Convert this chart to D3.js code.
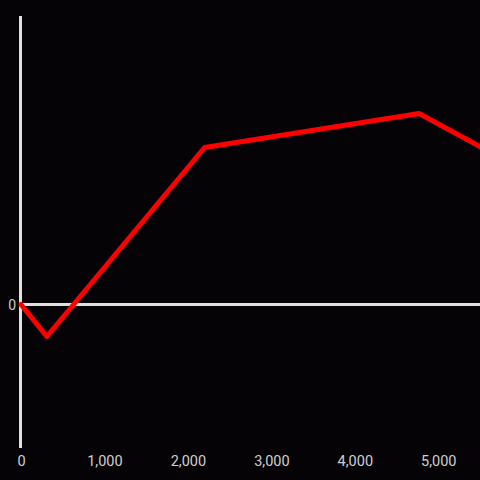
<!DOCTYPE html>
<html><head><meta charset="utf-8">
<script src="https://cdn.jsdelivr.net/npm/d3@7"></script>
<style>html,body{margin:0;padding:0;background:#050306;}svg{display:block;}</style>
</head><body>
<script>
const xValues = [0, 310, 2200, 4770, 5500];
const yValues = [0, -32, 157, 191, 158];
const xTicks = [0, 1000, 2000, 3000, 4000, 5000];
const yTicks = [0];

const W = 480, H = 480;
const svg = d3.select("body").append("svg").attr("width", W).attr("height", H);
svg.append("rect").attr("width", W).attr("height", H).attr("fill", "#050306");

const x = d3.scaleLinear().domain([0, 5500]).range([21, 480]);
const y = d3.scaleLinear().domain([-143.5, 288.5]).range([448, 16]);

// axes lines
svg.append("line").attr("x1", x(0) - 0.5).attr("x2", x(0) - 0.5).attr("y1", 16).attr("y2", 448)
  .attr("stroke", "#e0e0e0").attr("stroke-width", 3);
svg.append("line").attr("x1", 20).attr("x2", 480).attr("y1", y(0)).attr("y2", y(0))
  .attr("stroke", "#e0e0e0").attr("stroke-width", 3);

// x tick labels
svg.append("g").selectAll("text").data(xTicks).join("text")
  .attr("x", d => x(d) + 0.5).attr("y", 466)
  .attr("text-anchor", "middle")
  .attr("font-family", "Roboto, sans-serif").attr("font-size", 14.5)
  .attr("fill", "#cfcfcf")
  .text(d => d3.format(",")(d));

// y tick labels
svg.append("g").selectAll("text").data(yTicks).join("text")
  .attr("x", 16).attr("y", d => y(d) + 5)
  .attr("text-anchor", "end")
  .attr("font-family", "Roboto, sans-serif").attr("font-size", 14)
  .attr("fill", "#cfcfcf")
  .text(d => d);

const data = xValues.map((v, i) => [v, yValues[i]]);
svg.append("path").datum(data)
  .attr("d", d3.line().x(d => x(d[0])).y(d => y(d[1])))
  .attr("fill", "none").attr("stroke", "#ff0000").attr("stroke-width", 5)
  .attr("stroke-linejoin", "round").attr("stroke-linecap", "round");
</script>
</body></html>
